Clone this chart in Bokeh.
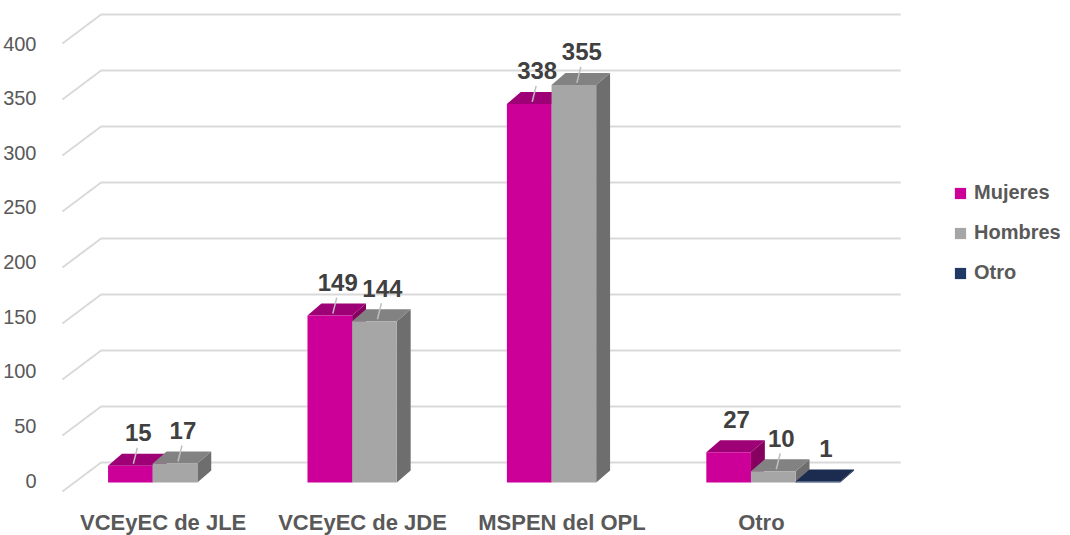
from bokeh.plotting import figure
from bokeh.models import Range1d, LinearAxis, FixedTicker, Legend, LegendItem
from bokeh.core.properties import value
from bokeh.embed import file_html
from bokeh.resources import INLINE

# ---------------- data ----------------
categories = ["VCEyEC de JLE", "VCEyEC de JDE", "MSPEN del OPL", "Otro"]
series_names = ["Mujeres", "Hombres", "Otro"]
mujeres = [15, 149, 338, 27]
hombres = [17, 144, 355, 10]
otro = [0, 0, 0, 1]
y_ticks = [0, 50, 100, 150, 200, 250, 300, 350, 400]
# which data labels carry a leader line in the original
leader_mujeres = [True, True, True, False]
leader_hombres = [True, True, True, True]
leader_otro = [False, False, False, False]

series_values = [mujeres, hombres, otro]
series_leaders = [leader_mujeres, leader_hombres, leader_otro]
# (front, top, side) colours
series_colors = [("#CC0099", "#9E0076", "#86005F"),
                 ("#A6A6A6", "#828282", "#6E6E6E"),
                 ("#1F3864", "#1B2C50", "#15223D")]

# ---------------- geometry (screen px -> data units) ----------------
W, H = 1062, 535
LEFT = 44
X0 = 167.5           # canvas x of category 0 (bar plane)
Y0 = 482.0           # canvas y of value 0 (bar front plane)
PXX = 1 / 201.0      # category units per px
PXY = 1 / 1.12       # value units per px
BAR_W = 45 * PXX
DX, DY = 14 * PXX, 12 * PXY          # bar depth
BACK_DY = 20 * PXY                    # back wall above bar plane
FRONT_DY = -9 * PXY                   # floor front edge below bar plane
X_FRONT = (54 - X0) * PXX
X_BACK0 = (93 - X0) * PXX
X_BACK1 = (899 - X0) * PXX

p = figure(width=W, height=H, output_backend="svg", toolbar_location=None,
           x_range=Range1d((LEFT - X0) * PXX, (W - X0) * PXX),
           y_range=Range1d(-(H - Y0) * PXY, Y0 * PXY),
           x_axis_location=None, y_axis_location=None,
           min_border_left=LEFT, min_border_right=0, min_border_top=0, min_border_bottom=0)
p.outline_line_color = None
p.background_fill_color = "white"
p.border_fill_color = "white"
p.grid.visible = False

# y axis (front plane labels)
LY0, LK = 480.0, 1.0925
p.extra_y_ranges = {"lab": Range1d(-(H - LY0) / LK, LY0 / LK)}
ax = LinearAxis(y_range_name="lab", ticker=FixedTicker(ticks=y_ticks, minor_ticks=[]))
ax.axis_line_color = None
ax.major_tick_line_color = None
ax.minor_tick_line_color = None
ax.major_label_standoff = 10
ax.major_label_text_font = "Liberation Sans"
ax.major_label_text_font_size = "20px"
ax.major_label_text_color = "#595959"
p.add_layout(ax, "left")

# back wall gridlines with diagonal to front plane
gx = [[X_FRONT, X_BACK0, X_BACK1] for v in y_ticks]
gy = [[v + FRONT_DY, v + BACK_DY, v + BACK_DY] for v in y_ticks]
p.multi_line(gx, gy, line_color="#D9D9D9", line_width=2)

# bars, painter's order: by group, then series left to right
legend_r = [None, None, None]
for i in range(len(categories)):
    for j, vals in enumerate(series_values):
        v = vals[i]
        if v <= 0:
            continue
        cols = series_colors[j]
        xc = i + (j - 1) * BAR_W
        L, R = xc - BAR_W / 2, xc + BAR_W / 2
        p.patch([R, R, R + DX, R + DX], [0, v, v + DY, DY], fill_color=cols[2], line_color=None)
        p.patch([L, R, R + DX, L + DX], [v, v, v + DY, v + DY], fill_color=cols[1], line_color=None)
        r = p.quad(left=[L], right=[R], bottom=[0], top=[v], fill_color=cols[0], line_color=None)
        if legend_r[j] is None:
            legend_r[j] = r

# data labels and leader lines
lx, ly, lt = [], [], []
sx0, sy0, sx1, sy1 = [], [], [], []
for j, (vals, leads) in enumerate(zip(series_values, series_leaders)):
    for i, v in enumerate(vals):
        if v <= 0:
            continue
        xc = i + (j - 1) * BAR_W
        lx.append(xc + 8 * PXX); ly.append(v + 33 * PXY); lt.append(str(v))
        if leads[i]:
            sx0.append(xc + 3 * PXX); sy0.append(v + 2 * PXY)
            sx1.append(xc + 7 * PXX); sy1.append(v + 18 * PXY)
p.segment(sx0, sy0, sx1, sy1, line_color="#BFBFBF", line_width=1.5)
p.text(lx, ly, text=lt, text_font=value("Liberation Sans"), text_font_style="bold",
       text_font_size="24px", text_color="#404040", text_align="center", text_baseline="middle")

# category labels (front plane)
cx = [i - 12 * PXX for i in range(len(categories))]
cy = [-40 * PXY] * len(categories)
p.text(cx, cy, text=categories, text_font=value("Liberation Sans"), text_font_style="bold",
       text_font_size="22px", text_color="#595959", text_align="center", text_baseline="middle")

legend = Legend(items=[LegendItem(label=s, renderers=[legend_r[j]]) for j, s in enumerate(series_names)],
                location=(901, 251))
legend.glyph_width = 14
legend.glyph_height = 14
legend.label_standoff = 7
legend.spacing = 17
legend.padding = 0
legend.margin = 0
legend.border_line_color = None
legend.background_fill_alpha = 0
legend.label_text_font = "Liberation Sans"
legend.label_text_font_style = "bold"
legend.label_text_font_size = "20px"
legend.label_text_color = "#595959"
p.add_layout(legend)

open("out.html", "w").write(file_html(p, INLINE))
